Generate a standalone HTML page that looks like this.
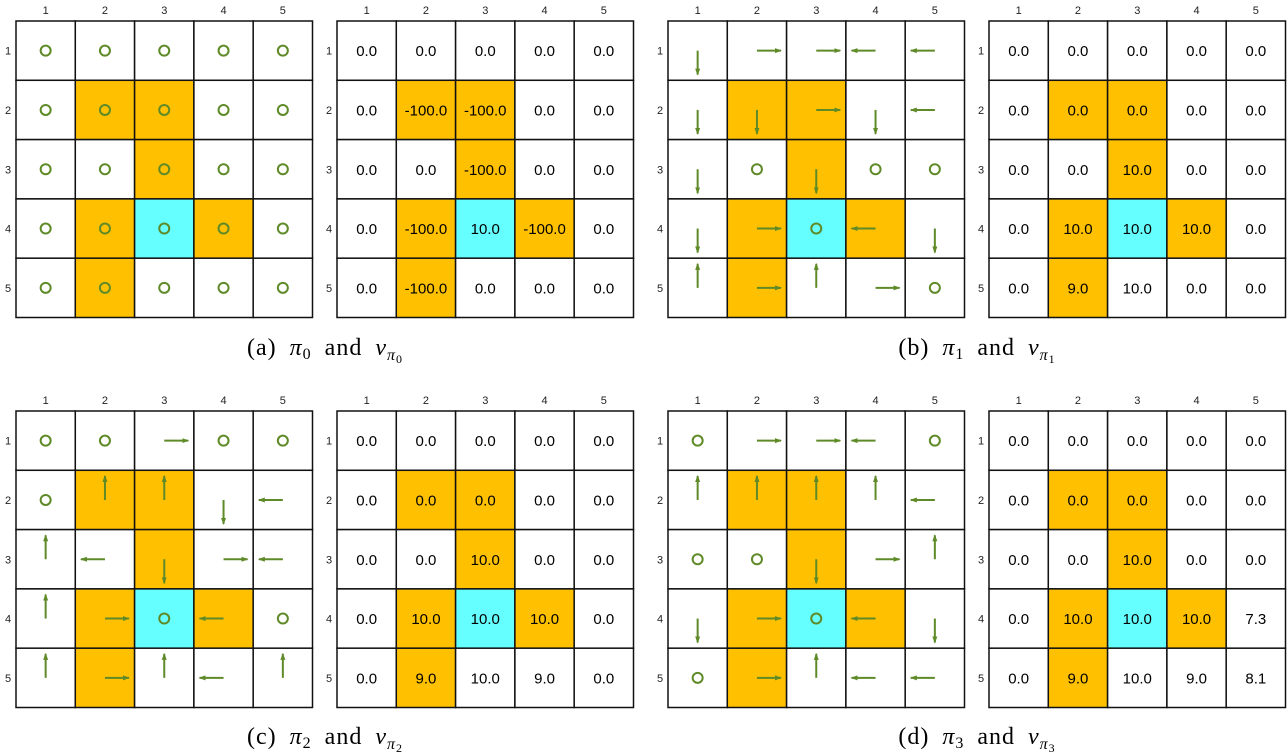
<!DOCTYPE html>
<html><head><meta charset="utf-8"><style>
body{margin:0;background:#fff;width:1288px;height:754px;overflow:hidden}
svg{display:block}
</style></head><body>
<svg id="s" width="1288" height="754" xmlns="http://www.w3.org/2000/svg">
<defs><marker id="ah" markerWidth="7" markerHeight="6" refX="6" refY="3" orient="auto" markerUnits="userSpaceOnUse"><path d="M0,0.5 L7,3 L0,5.5Z" fill="#5f8a28"/></marker></defs>
</svg>
<script>
const cellTypes=["00000","01100","00100","01210","01000"];
const policyA=["OOOOO","OOOOO","OOOOO","OOOOO","OOOOO"];
const policyB=["DRRLL","DDRDL","DODOO","DROLD","URURO"];
const policyC=["OOROO","OUUDL","ULDRL","UROLO","URULU"];
const policyD=["ORRLO","UUUUL","OODRU","DROLD","ORULL"];
const valuesA=[[0,0,0,0,0],[0,-100,-100,0,0],[0,0,-100,0,0],[0,-100,10,-100,0],[0,-100,0,0,0]];
const valuesB=[[0,0,0,0,0],[0,0,0,0,0],[0,0,10,0,0],[0,10,10,10,0],[0,9,10,0,0]];
const valuesC=[[0,0,0,0,0],[0,0,0,0,0],[0,0,10,0,0],[0,10,10,10,0],[0,9,10,9,0]];
const valuesD=[[0,0,0,0,0],[0,0,0,0,0],[0,0,10,0,0],[0,10,10,10,7.3],[0,9,10,9,8.1]];
const panels=[
 {id:'a',pol:policyA,val:valuesA,px:16,vx:337,y:21,cx:325,cy:355,sub:'0'},
 {id:'b',pol:policyB,val:valuesB,px:668,vx:989,y:21,cx:977,cy:355,sub:'1'},
 {id:'c',pol:policyC,val:valuesC,px:16,vx:337,y:411,cx:325,cy:744,sub:'2'},
 {id:'d',pol:policyD,val:valuesD,px:668,vx:989,y:411,cx:977,cy:744,sub:'3'}];
const C=59.3, NS='http://www.w3.org/2000/svg';
const svg=document.getElementById('s');
function mk(t,a,p){const e=document.createElementNS(NS,t);for(const k in a)e.setAttribute(k,a[k]);(p||svg).appendChild(e);return e;}
const fills={'0':'#ffffff','1':'#FFC000','2':'#66FFFF'};
function grid(x0,y0,kind,p){
 const g=mk('g',{});
 
 
 for(let i=0;i<5;i++){
  const t=mk('text',{x:x0+C*i+C/2,y:y0-7,'text-anchor':'middle','font-size':'11','font-family':'Liberation Sans, sans-serif',fill:'#222'},g);t.textContent=i+1;
  
  const r=mk('text',{x:x0-8,y:y0+C*i+C/2+4,'text-anchor':'middle','font-size':'11','font-family':'Liberation Sans, sans-serif',fill:'#222'},g);r.textContent=i+1;
  
 }
 for(let r=0;r<5;r++)for(let c=0;c<5;c++){
  const x=x0+C*c,y=y0+C*r,cx=x+C/2,cy=y+C/2;
  const rc=mk('rect',{x:x,y:y,width:C,height:C,fill:fills[cellTypes[r][c]],stroke:'#111','stroke-width':1.5},g);
  
  if(kind==='policy'){
   const a=p.pol[r][c];
   if(a==='O'){const e=mk('circle',{cx:cx,cy:cy,r:5,fill:'none',stroke:'#5f8a28','stroke-width':2},g);
    }
   else{const d={R:[1,0],L:[-1,0],U:[0,-1],D:[0,1]}[a];
    const e=mk('line',{x1:cx,y1:cy,x2:cx+d[0]*24,y2:cy+d[1]*24,stroke:'#5f8a28','stroke-width':2,'marker-end':'url(#ah)'},g);
    }
  }else{
   const t=mk('text',{x:cx,y:cy+5.5,'text-anchor':'middle','font-size':'15','font-family':'Liberation Sans, sans-serif',fill:'#000'},g);
   t.textContent=p.val[r][c].toFixed(1);
   
  }
 }
}
panels.forEach(p=>{
 grid(p.px,p.y,'policy',p);grid(p.vx,p.y,'value',p);
 const t=mk('text',{x:p.cx,y:p.cy,'text-anchor':'middle','font-size':'24','font-family':'Liberation Serif, serif',fill:'#000','letter-spacing':'1','word-spacing':'6'});
 
 t.innerHTML='('+p.id+') <tspan font-style="italic">π</tspan><tspan font-size="16" dy="4">'+p.sub+'</tspan><tspan dy="-4"> and </tspan><tspan font-style="italic">v</tspan><tspan font-size="16" dy="5" font-style="italic">π</tspan><tspan font-size="12" dy="3">'+p.sub+'</tspan>';
});
</script>
</body></html>
